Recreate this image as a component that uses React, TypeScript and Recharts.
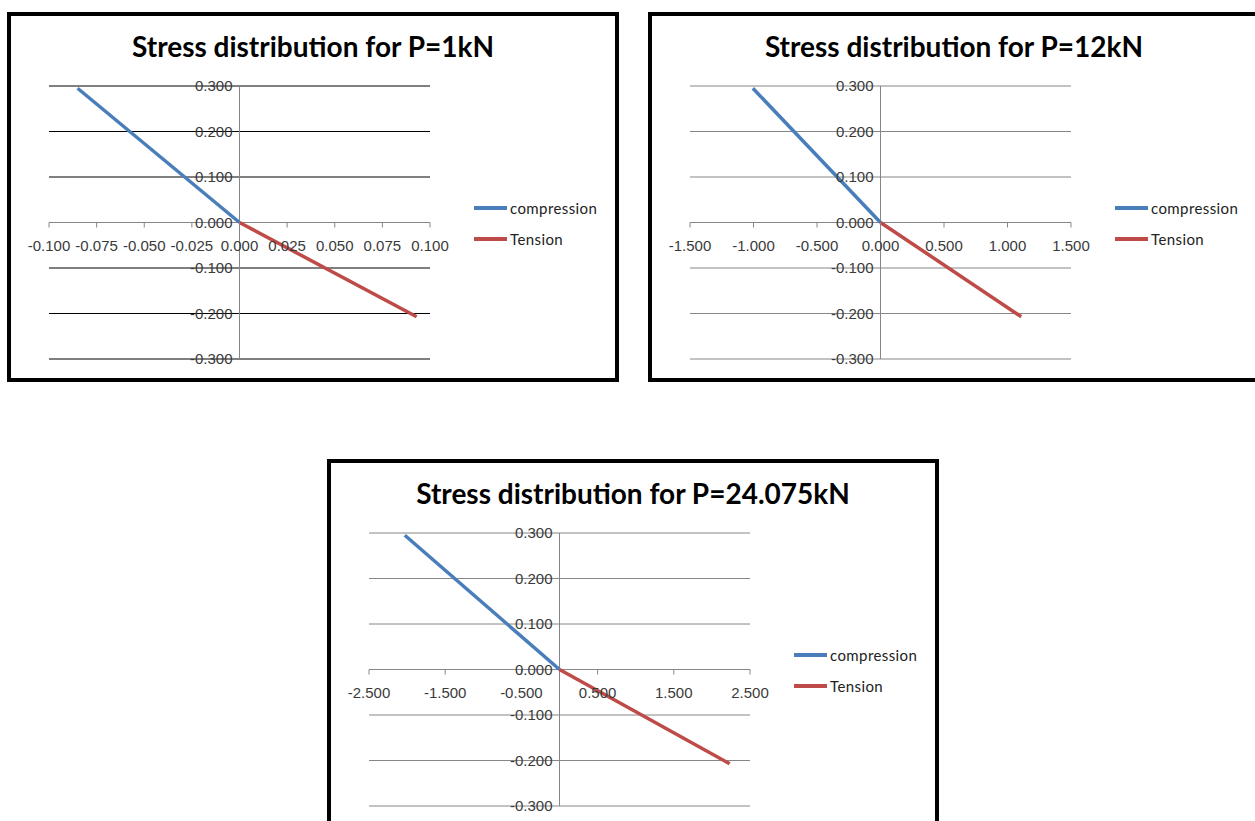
import React from 'react'
import {
  LineChart, Line, XAxis, YAxis, CartesianGrid, ReferenceLine, Legend
} from 'recharts'

// depth through the section (top fibre, neutral axis, bottom fibre)
const compressionDepth = [0.295, 0]
const tensionDepth = [0, -0.207]

// stress values for each load case
const compressionP1 = [-0.085, 0]
const tensionP1 = [0, 0.093]
const compressionP12 = [-1.005, 0]
const tensionP12 = [0, 1.108]
const compressionP24 = [-2.03, 0]
const tensionP24 = [0, 2.233]

const seriesNames = ['compression', 'Tension']
const depthTicks = [-0.3, -0.2, -0.1, 0, 0.1, 0.2, 0.3]
const stressTicksP1 = [-0.1, -0.075, -0.05, -0.025, 0, 0.025, 0.05, 0.075, 0.1]
const stressTicksP12 = [-1.5, -1, -0.5, 0, 0.5, 1, 1.5]
const stressTicksP24 = [-2.5, -1.5, -0.5, 0.5, 1.5, 2.5]

const PANEL_W = 612
const PANEL_H = 370
// axes get 1px each (0 would stop them rendering ticks)
const MARGIN = { top: 74, right: 189, bottom: 22, left: 41 }
const PLOT_LEFT = MARGIN.left + 1
const PLOT_W = PANEL_W - PLOT_LEFT - MARGIN.right
const PLOT_H = PANEL_H - MARGIN.top - MARGIN.bottom - 1
const AXIS_GREY = '#868686'
const BLUE = '#4A7EBB'
const RED = '#BE4B48'
const TICK_FONT = '"Liberation Sans", Arial, sans-serif'
const TICK_SIZE = 15

const toPoints = (stress: number[], depth: number[]) =>
  stress.map((x, i) => ({ x, y: depth[i] }))

function LegendBox({ payload }: any) {
  const items = [...(payload || [])].sort(
    (a: any, b: any) => seriesNames.indexOf(a.value) - seriesNames.indexOf(b.value)
  )
  return (
    <div style={{ fontFamily: 'Lato, sans-serif', fontSize: 15, color: '#222' }}>
      {items.map((entry: any) => (
        <div key={entry.value} style={{ display: 'flex', alignItems: 'center', height: 31 }}>
          <span style={{ display: 'inline-block', width: 33, height: 4, background: entry.color, marginRight: 3 }} />
          <span style={{ letterSpacing: 0.4 }}>{entry.value}</span>
        </div>
      ))}
    </div>
  )
}

interface PanelProps {
  title: string
  left: number
  top: number
  compression: number[]
  tension: number[]
  xDomain: [number, number]
  xTicks: number[]
  gridColor: string
}

function StressPanel({ title, left, top, compression, tension, xDomain, xTicks, gridColor }: PanelProps) {
  const [xMin, xMax] = xDomain
  // the axes cross at the origin, like the spreadsheet default
  const zeroX = PLOT_LEFT + PLOT_W * (0 - xMin) / (xMax - xMin)
  const zeroY = MARGIN.top + PLOT_H * 0.3 / 0.6

  const yTick = (props: any) => (
    <text
      x={zeroX - 7}
      y={props.y}
      dy="0.35em"
      textAnchor="end"
      fontSize={TICK_SIZE}
      fontFamily={TICK_FONT}
      fill="#3a3a3a"
    >
      {Number(props.payload.value).toFixed(3)}
    </text>
  )

  const xTick = (props: any) => (
    <g>
      <line x1={props.x} x2={props.x} y1={zeroY} y2={zeroY + 5} stroke={AXIS_GREY} strokeWidth={1} />
      <text
        x={props.x}
        y={zeroY + 23}
        dy="0.35em"
        textAnchor="middle"
        fontSize={TICK_SIZE}
        fontFamily={TICK_FONT}
        fill="#3a3a3a"
      >
        {Number(props.payload.value).toFixed(3)}
      </text>
    </g>
  )

  return (
    <div style={{ position: 'absolute', left, top, width: PANEL_W, height: PANEL_H, background: '#fff' }}>
      <div
        style={{
          position: 'absolute', left: 0, top: 18, width: PANEL_W, textAlign: 'center',
          fontFamily: 'Lato, sans-serif', fontWeight: 700, fontSize: 28, lineHeight: '32px', color: '#000'
        }}
      >
        {title}
      </div>
      <LineChart width={PANEL_W} height={PANEL_H} margin={MARGIN} style={{ position: 'absolute', left: 0, top: 0 }}>
        <CartesianGrid vertical={false} stroke={gridColor} strokeWidth={1} />
        <XAxis
          type="number"
          dataKey="x"
          domain={xDomain}
          ticks={xTicks}
          interval={0}
          height={1}
          axisLine={false}
          tickLine={false}
          tick={xTick}
          allowDataOverflow
        />
        <YAxis
          type="number"
          dataKey="y"
          domain={[-0.3, 0.3]}
          ticks={depthTicks}
          interval={0}
          width={1}
          axisLine={false}
          tickLine={false}
          tick={yTick}
        />
        <ReferenceLine y={0} stroke={AXIS_GREY} strokeWidth={1} />
        <ReferenceLine x={0} stroke={AXIS_GREY} strokeWidth={1} />
        <Legend
          layout="horizontal"
          align="center"
          verticalAlign="middle"
          content={<LegendBox />}
          wrapperStyle={{ position: 'absolute', left: 467, top: 180, width: 140, height: 62 }}
        />
        <Line
          name={seriesNames[0]}
          data={toPoints(compression, compressionDepth)}
          dataKey="y"
          type="linear"
          stroke={BLUE}
          strokeWidth={3.5}
          dot={false}
          isAnimationActive={false}
        />
        <Line
          name={seriesNames[1]}
          data={toPoints(tension, tensionDepth)}
          dataKey="y"
          type="linear"
          stroke={RED}
          strokeWidth={3.5}
          dot={false}
          isAnimationActive={false}
        />
      </LineChart>
      <div
        style={{
          position: 'absolute', left: 0, top: 0, width: PANEL_W, height: PANEL_H,
          boxSizing: 'border-box', border: '4px solid #000', pointerEvents: 'none'
        }}
      />
    </div>
  )
}

export default function App() {
  return (
    <div style={{ position: 'absolute', left: 0, top: 0, width: 1255, height: 821, background: '#fff', overflow: 'hidden' }}>
      <StressPanel
        title="Stress distribution for P=1kN"
        left={7}
        top={12}
        compression={compressionP1}
        tension={tensionP1}
        xDomain={[-0.1, 0.1]}
        xTicks={stressTicksP1}
        gridColor="#000"
      />
      <StressPanel
        title="Stress distribution for P=12kN"
        left={648}
        top={12}
        compression={compressionP12}
        tension={tensionP12}
        xDomain={[-1.5, 1.5]}
        xTicks={stressTicksP12}
        gridColor={AXIS_GREY}
      />
      <StressPanel
        title="Stress distribution for P=24.075kN"
        left={327}
        top={459}
        compression={compressionP24}
        tension={tensionP24}
        xDomain={[-2.5, 2.5]}
        xTicks={stressTicksP24}
        gridColor={AXIS_GREY}
      />
    </div>
  )
}
